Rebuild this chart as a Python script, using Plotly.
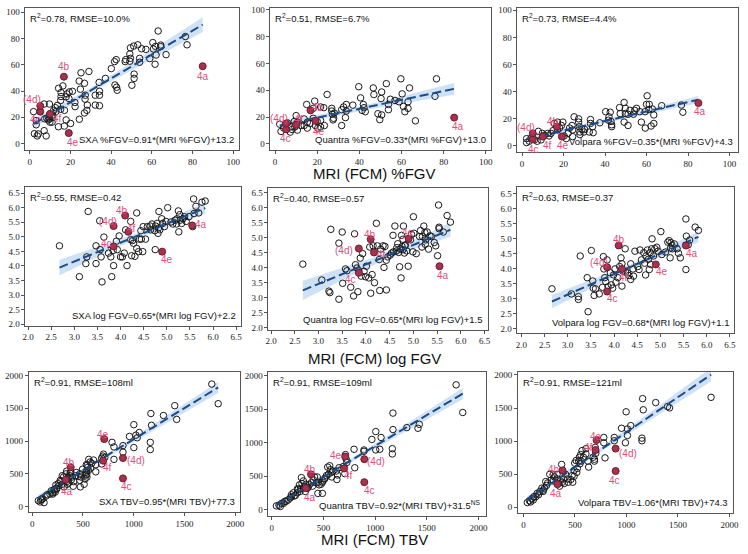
import numpy as np
import plotly.graph_objects as go

# ---------------- DATA ----------------
# Row 1: MRI %FGV (x) vs SXA / Quantra / Volpara %FGV (y)
p1_x = [63.1,76.5,77.3,64.4,64.4,67.0,60.5,61.8,60.8,62.1, 61.6,59.0,57.1,55.0,53.1,51.1,49.5,49.2,49.5,49.2,
        47.2,46.9,54.0,54.0,42.5,41.7,40.1,51.3,51.3,50.2, 41.9,42.7,43.0,37.2,34.1,34.3,34.3,32.2,32.2,34.3,
        29.1,25.2,24.3,26.9,24.9,27.3,27.2,28.3,28.1,26.9, 24.4,22.2,22.3,21.0,19.4,18.3,17.9,19.3,16.3,14.2,
        15.4,15.4,15.2,17.1,15.2,13.6,12.6,11.7,9.7,7.1, 17.9,20.1,17.0,14.1,7.1,8.1,4.2,2.3,3.7,3.2,
        3.1,1.9,9.7,8.4,9.7,11.0,7.4,11.3,12.9,9.9, 11.0,9.1]
p1_y = [85.7,81.5,75.2,75.0,73.8,67.7,76.9,74.0,72.0,67.4, 60.4,64.7,71.7,72.2,75.2,74.2,72.9,68.2,64.9,62.7,
        63.9,62.4,64.9,61.9,63.9,62.4,57.1,52.9,49.6,44.4, 44.6,42.9,40.6,49.6,46.6,39.8,36.8,36.8,29.3,28.8,
        54.9,53.9,47.6,45.9,41.4,36.8,33.8,29.3,25.3,23.3, 18.5,31.3,28.1,39.8,39.3,37.8,35.6,34.3,43.9,42.1,
        38.8,35.8,32.8,25.3,26.1,29.1,27.3,25.1,30.1,30.1, 18.0,15.3,13.3,12.8,9.8,5.8,7.3,7.5,5.8,14.3,
        17.5,24.3,21.8,19.3,18.8,19.8,18.8,21.8,24.3,16.3, 16.3,18.0]

p2_x = [76.6,59.7,52.8,39.7,46.6,63.8,24.7,46.9,50.6,60.3, 40.6,50.3,54.7,56.9,58.8,75.9,18.8,15.0,18.1,21.6,
        23.1,26.9,26.9,28.1,33.8,32.5,31.6,33.8,33.4,31.6, 36.9,41.9,42.2,41.3,42.8,48.8,50.6,49.7,53.8,53.8,
        60.9,61.6,63.1,63.1,66.6,27.2,27.8,27.5,23.4,21.6, 20.0,18.1,15.3,13.8,10.6,9.4,7.5,4.1,2.8,2.2,
        5.9,9.1,12.2,13.8,16.6,10.0,10.6,7.2,15.3,19.1, 20.3,21.6,8.1]
p2_y = [48.5,48.5,44.9,42.6,41.7,41.7,36.8,36.8,38.7,37.3, 34.3,33.8,33.3,32.4,31.4,35.5,31.9,29.4,26.5,27.5,
        27.0,26.5,24.5,23.0,29.4,27.5,25.5,24.5,19.6,13.7, 28.9,29.4,27.0,25.0,24.0,22.5,21.6,18.1,25.5,29.4,
        27.9,24.0,26.5,31.4,17.2,22.1,19.1,17.9,13.7,17.6, 16.7,19.1,16.2,18.6,16.2,12.7,12.7,11.8,9.3,14.7,
        15.7,16.7,13.7,13.7,15.2,21.1,10.3,8.8,11.8,13.7, 11.8,12.7,10.8]

p3_x = [60.3,49.2,61.3,60.0,67.3,76.8,77.5,40.3,42.5,47.0, 49.8,52.0,54.3,55.2,62.8,63.5,61.2,56.8,59.3,47.3,
        49.8,51.1,53.7,41.9,41.6,42.9,43.2,43.2,49.2,51.1, 57.5,59.4,62.2,63.5,25.1,27.3,27.3,27.6,27.9,27.9,
        33.0,33.0,34.0,32.4,34.3,37.5,24.1,22.9,24.4,24.4, 22.2,19.7,19.0,17.1,15.6,18.1,17.1,14.9,14.0,13.0,
        10.8,9.8,7.9,4.4,2.2,2.2,3.5,6.0,7.3,9.2, 12.4,20.3,21.3,29.8,30.2,28.9]
p3_y = [36.9,32.0,30.6,30.6,29.6,30.1,24.8,25.2,24.8,28.2, 27.7,26.2,26.2,27.7,27.2,22.8,26.7,25.2,25.2,23.8,
        23.8,23.3,23.3,21.4,18.9,18.0,14.1,15.5,17.5,15.0, 17.5,13.1,14.6,16.5,21.4,19.9,17.5,14.1,10.2,8.3,
        19.4,16.5,14.1,10.2,9.7,17.0,15.0,13.1,11.7,6.8, 9.2,17.5,15.0,17.5,16.5,13.1,11.7,11.2,9.2,7.3,
        7.8,9.2,10.7,5.8,5.3,2.4,3.4,4.4,3.4,4.4, 9.2,7.3,5.3,10.2,12.1,12.1]

# Row 2: MRI log FGV
p4_x = [2.68,3.11,3.25,3.27,3.30,3.47,3.47,3.55,3.56,3.58, 3.60,3.64,3.74,3.79,3.81,3.84,3.85,3.91,3.93,3.97,
        4.00,4.04,4.08,4.11,4.14,4.22,4.22,4.24,4.26,4.28, 4.31,4.35,4.35,4.39,4.41,4.44,4.45,4.48,4.49,4.54,
        4.58,4.64,4.65,4.68,4.74,4.75,4.76,4.79,4.81,4.82, 4.83,4.85,4.89,4.91,4.95,4.98,5.02,5.09,5.13,5.18,
        5.21,5.22,5.25,5.26,5.28,5.29,5.32,5.35,5.38,5.42, 5.48,5.56,5.58,5.59,5.69,5.76,5.83,5.63]
p4_y = [4.69,3.63,4.08,4.31,5.87,4.08,4.69,5.55,4.56,4.31, 3.45,4.99,4.44,4.31,3.63,4.53,4.01,4.85,4.56,5.03,
        4.31,4.31,4.44,5.24,4.01,5.53,4.90,4.35,4.87,4.78, 4.33,5.82,4.60,4.49,4.92,5.21,4.92,4.49,5.35,4.92,
        5.35,5.37,5.24,5.44,5.21,4.56,5.37,5.46,5.12,5.30, 5.87,5.24,5.62,5.46,5.35,5.53,6.00,5.51,5.44,5.57,
        5.44,5.62,5.89,5.17,5.76,5.57,5.46,5.62,5.69,5.53, 5.69,5.35,6.30,5.80,5.82,6.19,6.23,6.05]

p5_x = [2.67,3.07,3.22,3.24,3.26,3.43,3.43,3.50,3.51,3.57, 3.60,3.68,3.74,3.76,3.78,3.81,3.83,3.85,3.88,3.90,
        3.93,3.96,3.99,4.01,4.06,4.08,4.10,4.13,4.15,4.18, 4.22,4.24,4.28,4.29,4.31,4.36,4.38,4.40,4.43,4.43,
        4.46,4.51,4.54,4.57,4.58,4.61,4.64,4.65,4.67,4.69, 4.71,4.72,4.74,4.75,4.76,4.78,4.78,4.79,4.81,4.82,
        4.83,4.86,4.89,4.94,4.96,4.99,5.00,5.01,5.06,5.13, 5.15,5.18,5.19,5.22,5.24,5.25,5.26,5.29,5.32,5.35,
        5.38,5.44,5.47,5.51,5.53,5.54,5.54,5.71,5.78,5.63]
p5_y = [4.11,3.58,3.21,3.16,5.27,2.94,4.81,5.18,3.47,3.95, 3.89,3.34,3.05,5.12,4.09,3.98,3.19,3.89,4.31,3.71,
        4.46,3.87,3.69,4.04,3.65,4.68,3.14,3.76,4.72,3.49, 5.47,4.72,4.26,3.23,4.61,4.72,4.00,4.70,4.24,3.25,
        4.35,4.41,4.48,5.07,4.52,5.38,4.55,4.66,4.79,4.50, 4.02,4.61,3.65,5.07,4.70,4.59,4.94,5.38,4.48,4.72,
        4.74,4.55,4.04,4.92,5.10,4.52,5.69,5.14,4.46,5.03, 5.23,4.68,5.03,5.38,5.16,4.77,4.92,5.18,4.61,5.05,
        5.03,4.83,4.72,4.39,6.08,5.34,5.29,5.73,5.51,5.18]

p6_x = [2.66,3.08,3.23,3.23,3.27,3.42,3.44,3.51,3.54,3.55, 3.57,3.60,3.68,3.75,3.77,3.78,3.80,3.82,3.85,3.87,
        3.92,3.94,3.97,3.99,4.02,4.04,4.08,4.12,4.15,4.17, 4.17,4.19,4.24,4.25,4.29,4.32,4.36,4.36,4.41,4.42,
        4.45,4.51,4.54,4.56,4.59,4.64,4.66,4.68,4.69,4.72, 4.74,4.76,4.78,4.79,4.81,4.82,4.85,4.88,4.92,4.95,
        5.01,5.03,5.11,5.16,5.19,5.21,5.22,5.23,5.25,5.26, 5.30,5.36,5.39,5.43,5.55,5.56,5.55,5.63,5.75,5.82,
        5.60]
p6_y = [3.33,3.16,3.07,2.98,4.42,3.70,2.57,4.60,3.59,3.35, 3.11,3.33,3.16,3.38,4.40,3.99,3.70,3.57,4.29,3.40,
        3.86,3.46,3.35,3.79,3.99,3.55,3.70,4.07,4.36,4.16, 3.42,3.92,4.66,3.88,3.86,3.77,4.16,3.64,3.99,3.75,
        4.58,4.07,3.97,4.62,4.29,4.53,4.18,3.79,4.42,4.62, 4.31,3.97,4.53,4.14,4.66,4.99,4.42,4.66,4.71,4.58,
        5.23,4.47,4.55,4.88,4.93,4.36,4.69,4.86,4.77,4.66, 4.82,4.66,4.51,4.36,5.65,5.08,3.97,4.95,5.38,5.27,
        4.79]

# Row 3: MRI TBV (ml)
p7_x = [1770,1833,1405,1424,1294,1170,1176,1002,1055,1022, 1035,959,1164,1164,1002,895,787,806,895,806,
        703,697,685,716,685,627,627,577,558,571, 543,555,537,528,530,534,497,540,482,469,
        521,469,512,475,430,411,405,386,380,373, 360,340,335,340,309,283,296,346,315,258,
        265,277,234,240,216,228,203,188,175,137, 104,86,61,79,117,97,149,203,219,243,
        296,373,393,328,352,437,455,537,586,605, 549]
p7_y = [1870,1570,1540,1330,1390,1420,1240,1250,1130,1090, 1050,1070,980,870,900,930,980,910,830,720,
        800,770,740,750,650,640,530,590,720,680, 630,550,550,480,520,640,570,450,450,500,
        420,400,340,300,470,380,310,410,530,470, 360,540,500,380,450,380,470,340,300,350,
        320,400,330,280,260,220,210,240,190,160, 120,100,90,70,60,110,180,190,240,270,
        340,510,450,400,440,520,460,490,660,710, 600]

p8_x = [1783,1847,1172,1414,1427,1306,1172,1057,1006,968, 1045,1006,1166,1166,892,892,796,713,720,726,
        803,694,707,650,637,624,630,580,567,561, 541,529,516,497,490,478,452,490,446,433,
        401,382,363,344,331,325,306,287,293,312, 280,274,248,248,229,210,191,178,159,127,
        96,70,45,83,115,140,191,217,255,268, 395,414,350,440,459,548,592,510,580]
p8_y = [1862,1450,1441,1215,1274,1225,1196,1078,1166,1049, 902,892,911,833,892,872,902,823,755,706,
        627,647,539,627,519,578,451,559,598,657, 637,510,470,431,412,382,412,245,245,402,
        451,402,372,323,382,274,431,480,392,343, 313,274,313,255,216,255,225,176,147,127,
        98,69,59,49,98,127,196,206,304,372, 353,490,333,490,372,529,578,461,490]

p9_x = [1821,1157,1284,1399,1418,1163,997,1042,952,1010, 1010,1150,1150,990,882,882,780,780,792,697,
        703,690,690,677,626,633,607,607,569,556, 543,562,549,524,511,498,492,473,492,479,
        460,435,428,409,390,358,371,326,326,300, 288,268,256,236,224,217,204,192,179,160,
        134,102,83,58,38,70,96,121,147,192, 288,339,351,377,396,518,582,537]
p9_y = [1662,1642,1582,1522,1502,1473,1443,1234,1194,1184, 1085,1045,1005,975,1055,1005,1055,975,746,905,
        816,726,697,756,697,607,886,806,856,796, 756,697,657,587,706,667,557,478,468,378,
        418,378,428,497,428,398,647,497,428,458, 488,408,497,368,328,388,289,259,289,239,
        209,159,129,99,70,80,109,159,189,239, 398,358,318,378,358,527,756,697]

# Highlighted cases
case_labels = ["4a", "4b", "4c", "(4d)", "4e", "4f"]
case_x_pct = [85.0, 16.8, 5.2, 5.2, 19.2, 10.0]
case_x_log = [5.55, 4.10, 3.85, 3.85, 4.90, 4.17]
case_x_tbv = [330, 380, 895, 895, 710, 700]
case_y_p1 = [58.9, 50.9, 24.3, 28.6, 8.0, 22.6]
case_y_p2 = [19.6, 25.0, 10.8, 15.2, 17.2, 14.2]
case_y_p3 = [31.6, 14.1, 4.9, 9.2, 6.8, 6.8]
case_y_p4 = [5.39, 5.73, 4.67, 5.37, 4.49, 5.17]
case_y_p5 = [4.04, 4.94, 3.82, 4.63, 4.96, 4.50]
case_y_p6 = [4.77, 4.77, 3.24, 4.05, 4.14, 3.99]
case_y_p7 = [410, 600, 430, 740, 1030, 700]
case_y_p8 = [323, 529, 412, 755, 794, 617]
case_y_p9 = [348, 557, 547, 886, 1015, 866]

# Regression fits (as printed)
fit_slope = [0.91, 0.33, 0.35, 0.65, 0.65, 0.68, 0.95, 0.92, 1.06]
fit_intercept = [13.2, 13.0, 4.3, 2.2, 1.5, 1.1, 77.3, 31.5, 74.3]
r2_text = ["R<sup>2</sup>=0.78, RMSE=10.0%", "R<sup>2</sup>=0.51, RMSE=6.7%", "R<sup>2</sup>=0.73, RMSE=4.4%",
           "R<sup>2</sup>=0.55, RMSE=0.42", "R<sup>2</sup>=0.40, RMSE=0.57", "R<sup>2</sup>=0.63, RMSE=0.37",
           "R<sup>2</sup>=0.91, RMSE=108ml", "R<sup>2</sup>=0.91, RMSE=109ml", "R<sup>2</sup>=0.91, RMSE=121ml"]
eq_text = ["SXA %FGV=0.91*(MRI %FGV)+13.2", "Quantra %FGV=0.33*(MRI %FGV)+13.0",
           "Volpara %FGV=0.35*(MRI %FGV)+4.3",
           "SXA log FGV=0.65*(MRI log FGV)+2.2", "Quantra log FGV=0.65*(MRI log FGV)+1.5",
           "Volpara log FGV=0.68*(MRI log FGV)+1.1",
           "SXA TBV=0.95*(MRI TBV)+77.3", "Quantra TBV=0.92*(MRI TBV)+31.5<sup>NS</sup>",
           "Volpara TBV=1.06*(MRI TBV)+74.3"]
row_titles = ["MRI (FCM) %FGV", "MRI (FCM) log FGV", "MRI (FCM) TBV"]
ticks_pct = [0, 20, 40, 60, 80, 100]
ticks_log = [2.0, 2.5, 3.0, 3.5, 4.0, 4.5, 5.0, 5.5, 6.0, 6.5]
ticks_tbv = [0, 500, 1000, 1500, 2000]

# ---------------- LAYOUT / STYLE ----------------
W, H = 748, 554
frames = [(22.7, 239, 4.7, 149), (270.7, 494, 4.7, 149), (520.7, 744, 5.3, 150.7),
          (22.7, 240.7, 186.7, 326.7), (268.7, 491.3, 187.3, 330.7), (520.7, 740, 186.7, 334),
          (26, 240, 374, 515.3), (268.7, 488.7, 374, 520), (521.3, 738.7, 373.3, 516.7)]
xranges = [[-2.1, 102.9], [-2.2, 102.5], [-2.2, 104.1],
           [1.944, 6.60], [1.946, 6.58], [1.915, 6.59],
           [-34, 2049], [-31.5, 2070], [-52, 2032]]
yranges = [[-5.0, 103.5], [-4.6, 101.5], [-4.4, 101.5],
           [1.95, 6.70], [1.93, 6.65], [1.87, 6.70],
           [-80, 2050], [-98, 2049], [-90, 2051]]
# label offsets (dx, dy) in px, dy positive = down
label_off = [
    [(0, 10), (0, -10), (-5, 8), (-8, -6), (4, 9), (7, 5)],
    [(4, 9), (8, -3), (-1, 9), (-7, -5), (3, 11), (2, -5)],
    [(2, 9), (-4, -5), (1, 10), (-7, -6), (1, 9), (5, 9)],
    [(9, -1), (-3, -5), (-7, -3), (-6, -5), (5, 8), (3, -3)],
    [(3, 9), (-1, -5), (-8, 7), (-15, 2), (-1, -6), (7, 2)],
    [(6, 8), (0, -6), (5, 7), (-8, -5), (6, 7), (2, 9)],
    [(1, 12), (-2, -5), (4, 8), (13, 2), (-1, -5), (4, 7)],
    [(4, 9), (-1, -5), (5, 8), (12, 2), (-9, -1), (4, 7)],
    [(-1, 9), (-9, -1), (-1, 9), (12, 5), (-1, -4), (-7, -2)],
]

pts_x = [p1_x, p2_x, p3_x, p4_x, p5_x, p6_x, p7_x, p8_x, p9_x]
pts_y = [p1_y, p2_y, p3_y, p4_y, p5_y, p6_y, p7_y, p8_y, p9_y]
case_x = [case_x_pct] * 3 + [case_x_log] * 3 + [case_x_tbv] * 3
case_y = [case_y_p1, case_y_p2, case_y_p3, case_y_p4, case_y_p5, case_y_p6, case_y_p7, case_y_p8, case_y_p9]
tickvals = [ticks_pct] * 3 + [ticks_log] * 3 + [ticks_tbv] * 3
tickfmt = [None] * 3 + [".1f"] * 3 + [None] * 3

SANS = "Liberation Sans, Arial, sans-serif"
SERIF = "Liberation Serif, Times New Roman, serif"
LINE_COL = "#1d4b87"
BAND_COL = "rgba(168,203,236,0.55)"
CASE_FILL = "#a8324e"
CASE_EDGE = "#6e1a2e"
LABEL_COL = "#e24c7c"
TXT_SIZE = 9.5

fig = go.Figure()
annotations = []
layout_axes = {}

for i in range(9):
    sfx = "" if i == 0 else str(i + 1)
    xa, ya = "x" + sfx, "y" + sfx
    x = np.array(pts_x[i] + case_x[i], float)
    y = np.array(pts_y[i] + case_y[i], float)
    b, a = fit_slope[i], fit_intercept[i]
    n = len(x)
    resid = y - (a + b * x)
    s = np.sqrt(np.sum(resid ** 2) / (n - 2))
    xbar = x.mean()
    sxx = np.sum((x - xbar) ** 2)
    xs = np.linspace(x.min(), x.max(), 80)
    yl = a + b * xs
    half = 1.98 * s * np.sqrt(1.0 / n + (xs - xbar) ** 2 / sxx)
    fig.add_trace(go.Scatter(x=np.concatenate([xs, xs[::-1]]),
                             y=np.concatenate([yl + half, (yl - half)[::-1]]),
                             fill="toself", fillcolor=BAND_COL, line=dict(width=0),
                             mode="lines", hoverinfo="skip", showlegend=False, xaxis=xa, yaxis=ya))
    fig.add_trace(go.Scatter(x=pts_x[i], y=pts_y[i], mode="markers",
                             marker=dict(symbol="circle-open", size=6.5, color="#1a1a1a", line=dict(width=1)),
                             showlegend=False, xaxis=xa, yaxis=ya))
    fig.add_trace(go.Scatter(x=xs, y=yl, mode="lines",
                             line=dict(color=LINE_COL, width=2, dash="9px,4px"),
                             showlegend=False, xaxis=xa, yaxis=ya))
    fig.add_trace(go.Scatter(x=case_x[i], y=case_y[i], mode="markers",
                             marker=dict(symbol="circle", size=7, color=CASE_FILL,
                                         line=dict(width=1, color=CASE_EDGE)),
                             showlegend=False, xaxis=xa, yaxis=ya))
    for k, lab in enumerate(case_labels):
        dx, dy = label_off[i][k]
        annotations.append(dict(x=case_x[i][k], y=case_y[i][k], xref=xa, yref=ya, text=lab,
                                showarrow=False, xanchor="center", yanchor="middle",
                                xshift=dx, yshift=-dy,
                                font=dict(family=SANS, size=10, color=LABEL_COL)))
    annotations.append(dict(x=0, y=1, xref=xa + " domain", yref=ya + " domain", text=r2_text[i],
                            showarrow=False, xanchor="left", yanchor="top", xshift=3, yshift=-2,
                            font=dict(family=SANS, size=TXT_SIZE, color="#111")))
    annotations.append(dict(x=1, y=0, xref=xa + " domain", yref=ya + " domain", text=eq_text[i],
                            showarrow=False, xanchor="right", yanchor="bottom", xshift=-3, yshift=3,
                            font=dict(family=SANS, size=TXT_SIZE, color="#111")))

    x0, x1, y0, y1 = frames[i]
    axcommon = dict(showgrid=False, zeroline=False, showline=True, mirror=True,
                    linecolor="#555", linewidth=1, ticks="outside", ticklen=3, tickwidth=1,
                    tickcolor="#555", tickfont=dict(family=SERIF, size=9, color="#222"))
    layout_axes["xaxis" + sfx] = dict(axcommon, domain=[x0 / W, x1 / W], range=xranges[i],
                                      tickvals=tickvals[i], anchor=ya,
                                      tickformat=tickfmt[i] if tickfmt[i] else "")
    layout_axes["yaxis" + sfx] = dict(axcommon, domain=[1 - y1 / H, 1 - y0 / H], range=yranges[i],
                                      tickvals=tickvals[i], anchor=xa,
                                      tickformat=tickfmt[i] if tickfmt[i] else "")

title_y = [173, 360, 543]
for r in range(3):
    annotations.append(dict(x=376 / W, y=1 - title_y[r] / H, xref="paper", yref="paper",
                            text=row_titles[r], showarrow=False, xanchor="center", yanchor="middle",
                            font=dict(family=SANS, size=15, color="#111")))

fig.update_layout(width=W, height=H, margin=dict(l=0, r=0, t=0, b=0),
                  paper_bgcolor="white", plot_bgcolor="white",
                  annotations=annotations, showlegend=False, **layout_axes)

fig.write_html("out.html", config={"displayModeBar": False},
               post_script="document.body.style.margin='0';document.body.style.overflow='hidden';")
